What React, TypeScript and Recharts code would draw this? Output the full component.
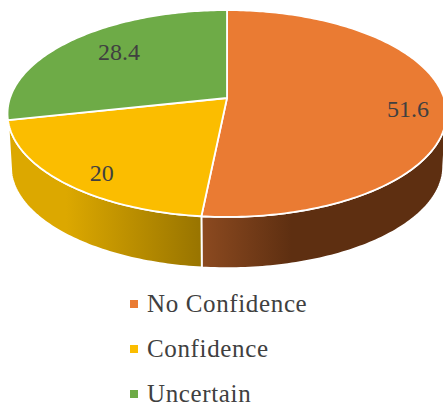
import { PieChart, Pie, Legend } from 'recharts';

const categories = ['No Confidence', 'Confidence', 'Uncertain'];
const values = [51.6, 20, 28.4];
const colors = ['#ea7b33', '#fbbd00', '#6eab47'];
const wallStart = ['#8c4a20', '#dca800', '#4a7a2e'];
const wallEnd = ['#5e2f11', '#987400', '#4a7a2e'];

const chartData = categories.map((name, i) => ({ name, value: values[i], fill: colors[i] }));

const FONT = '"Liberation Serif", serif';
const TILT = -0.15; // perspective of the disc
const YSCALE = 0.466;
const DEPTH = 53;
const RAD = Math.PI / 180;

// point on the tilted disc, deg is the recharts angle, f the share of the radius
function project(cx: number, cy: number, r: number, deg: number, f = 1) {
  const s = Math.cos(deg * RAD) * f;
  const u = -Math.sin(deg * RAD) * f;
  const w = 1 + TILT * u;
  return { x: cx + (r * s) / w, y: cy + (r * YSCALE * u) / w };
}

function arcPoints(cx: number, cy: number, r: number, from: number, to: number) {
  const steps = Math.max(2, Math.ceil(Math.abs(to - from)));
  const pts = [];
  for (let i = 0; i <= steps; i++) {
    pts.push(project(cx, cy, r, from + ((to - from) * i) / steps));
  }
  return pts;
}

const toPath = (pts: { x: number; y: number }[]) =>
  pts.map((p, i) => `${i ? 'L' : 'M'}${p.x.toFixed(2)} ${p.y.toFixed(2)}`).join(' ');

function Slice3D(props: any) {
  const { cx, cy, outerRadius, startAngle, endAngle, fill, index } = props;
  const top = arcPoints(cx, cy, outerRadius, startAngle, endAngle);

  // the wall only shows on the near side of the disc
  const a = Math.max(Math.min(startAngle, endAngle), -167);
  const b = Math.min(Math.max(startAngle, endAngle), -8.6);
  let wall = null;
  if (b > a) {
    const upper = arcPoints(cx, cy, outerRadius, b, a);
    const lower = arcPoints(cx, cy, outerRadius * 0.985, a, b).map((p) => ({ x: p.x, y: p.y + DEPTH }));
    const xs = upper.map((p) => p.x);
    const gid = `wall-${index}`;
    wall = (
      <>
        <defs>
          <linearGradient
            id={gid}
            gradientUnits="userSpaceOnUse"
            x1={Math.min(...xs)}
            x2={index === 0 ? Math.min(...xs) + 90 : Math.max(...xs)}
            y1={0}
            y2={0}
          >
            <stop offset={index === 1 ? '0.3' : '0'} stopColor={wallStart[index]} />
            <stop offset="1" stopColor={wallEnd[index]} />
          </linearGradient>
        </defs>
        <path d={toPath([...upper, ...lower]) + ' Z'} fill={`url(#${gid})`} stroke="#fff" strokeWidth={1.8} />
      </>
    );
  }

  return (
    <g>
      {wall}
      <path
        d={`M${cx} ${cy} ` + toPath(top).replace('M', 'L') + ' Z'}
        fill={fill}
        stroke="#fff"
        strokeWidth={1.8}
        strokeLinejoin="round"
      />
    </g>
  );
}

const labelReach = [0.83, 0.79, 0.68];
const labelShift = [7, 10, -5];

function renderLabel(props: any) {
  const { cx, cy, outerRadius, midAngle, value, index } = props;
  const p = project(cx, cy, outerRadius, midAngle, labelReach[index]);
  return (
    <text
      x={p.x}
      y={p.y + labelShift[index]}
      textAnchor="middle"
      dominantBaseline="central"
      fontFamily={FONT}
      fontSize={24}
      fill="#404040"
    >
      {value}
    </text>
  );
}

function LegendRows({ payload }: any) {
  return (
    <div>
      {(payload || []).map((item: any) => (
        <div key={item.value} style={{ height: 45, lineHeight: '45px', display: 'flex', alignItems: 'center' }}>
          <span style={{ width: 8, height: 8, marginRight: 9, background: item.color, display: 'inline-block' }} />
          <span style={{ fontFamily: FONT, fontSize: 25, color: '#404040', letterSpacing: 0.64 }}>{item.value}</span>
        </div>
      ))}
    </div>
  );
}

export default function App() {
  return (
    <div style={{ position: 'absolute', left: 0, top: 0, width: 443, height: 406, overflow: 'hidden', background: '#fff' }}>
      <PieChart width={443} height={406} margin={{ top: 0, right: 0, bottom: 0, left: 0 }}>
        <Pie
          data={chartData}
          dataKey="value"
          nameKey="name"
          cx={227}
          cy={98}
          outerRadius={217}
          startAngle={90}
          endAngle={-270}
          shape={Slice3D}
          label={renderLabel}
          labelLine={false}
          isAnimationActive={false}
        />
        <Legend
          layout="vertical"
          itemSorter={null}
          content={<LegendRows />}
          wrapperStyle={{ position: 'absolute', left: 130, top: 281, width: 300 }}
        />
      </PieChart>
    </div>
  );
}
